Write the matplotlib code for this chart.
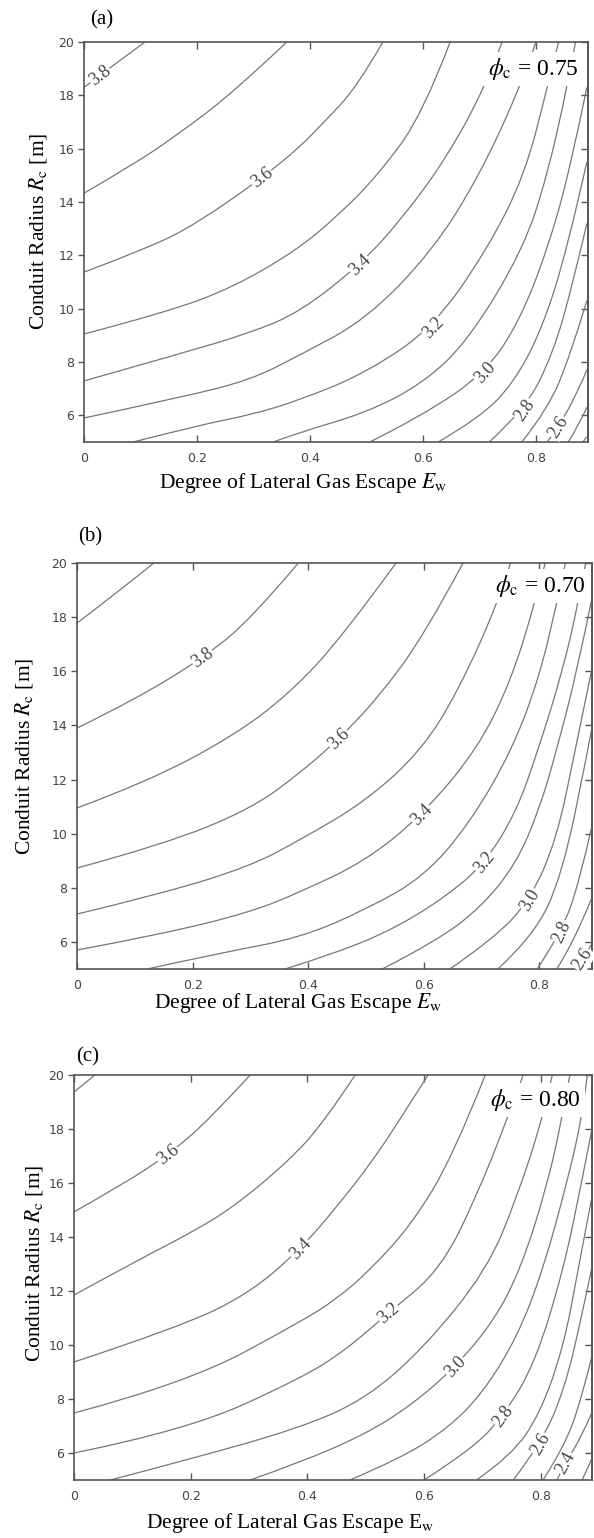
import numpy as np
import matplotlib.pyplot as plt
from matplotlib.path import Path
from matplotlib.patches import PathPatch

plt.rcParams['mathtext.fontset'] = 'stix'

W, H = 594, 1538

# ---- panel (a), phi_c = 0.75 : contour lines (E_w, R_c)
levels_a = [3.8, 3.7, 3.6, 3.5, 3.4, 3.3, 3.2, 3.1, 3.0, 2.9, 2.8, 2.7, 2.6, 2.5, 2.4]
E_a = [
    [0, 0.05, 0.108],
    [0, 0.087, 0.164, 0.264, 0.359],
    [0, 0.117, 0.2, 0.315, 0.382, 0.423, 0.483, 0.529],
    [0, 0.147, 0.264, 0.377, 0.45, 0.52, 0.6, 0.648],
    [0, 0.175, 0.294, 0.382, 0.488, 0.56, 0.64, 0.71, 0.74],
    [0, 0.175, 0.294, 0.382, 0.5, 0.618, 0.70, 0.772, 0.80],
    [0.087, 0.205, 0.294, 0.382, 0.5, 0.618, 0.713, 0.78, 0.82, 0.84],
    [0.335, 0.382, 0.5, 0.6, 0.68, 0.777, 0.82, 0.855, 0.87],
    [0.506, 0.6, 0.71, 0.77, 0.82, 0.86, 0.89],
    [0.627, 0.7, 0.76, 0.81, 0.855, 0.89],
    [0.717, 0.78, 0.83, 0.866, 0.89],
    [0.775, 0.82, 0.86, 0.89],
    [0.82, 0.839, 0.87, 0.89],
    [0.857, 0.875, 0.89],
    [0.883, 0.89],
]
R_a = [
    [18.3, 19.1, 20],
    [14.33, 15.4, 16.5, 18.1, 20],
    [11.37, 12.3, 13.2, 14.9, 16.06, 16.96, 18.3, 20],
    [9.05, 9.87, 10.8, 12.2, 13.5, 15.0, 17.3, 20],
    [7.29, 8.34, 9.09, 9.87, 11.64, 13.3, 15.6, 18.3, 20],
    [5.9, 6.69, 7.32, 8.26, 9.6, 12.2, 15.0, 18.3, 20],
    [5, 5.64, 6.01, 6.57, 7.6, 9.3, 12.2, 15.0, 18.3, 20],
    [5, 5.37, 6.1, 7.2, 8.8, 12.2, 15.0, 18.3, 20],
    [5, 6.0, 7.59, 9.5, 12.2, 15.2, 18.3],
    [5, 5.9, 7.2, 9.2, 12.2, 15.5],
    [5, 6.2, 8.3, 11.0, 13.2],
    [5, 6.2, 8.2, 10.3],
    [5, 5.56, 6.7, 7.7],
    [5, 5.6, 6.3],
    [5, 5.2],
]

# ---- panel (b), phi_c = 0.70
levels_b = [3.9, 3.8, 3.7, 3.6, 3.5, 3.4, 3.3, 3.2, 3.1, 3.0, 2.9, 2.8, 2.7, 2.6]
E_b = [
    [0, 0.06, 0.133],
    [0, 0.1, 0.218, 0.3, 0.383],
    [0, 0.12, 0.27, 0.369, 0.46, 0.552],
    [0, 0.15, 0.30, 0.386, 0.453, 0.52, 0.60, 0.668],
    [0, 0.15, 0.30, 0.386, 0.5, 0.597, 0.66, 0.728, 0.75],
    [0, 0.15, 0.3, 0.386, 0.5, 0.597, 0.692, 0.75, 0.792, 0.81],
    [0.121, 0.25, 0.386, 0.5, 0.6, 0.68, 0.753, 0.80, 0.83, 0.845],
    [0.36, 0.45, 0.55, 0.64, 0.706, 0.76, 0.798, 0.84, 0.867, 0.88],
    [0.528, 0.62, 0.70, 0.76, 0.80, 0.83, 0.865, 0.89],
    [0.645, 0.72, 0.784, 0.83, 0.862, 0.89],
    [0.728, 0.79, 0.84, 0.884, 0.89],
    [0.796, 0.839, 0.87, 0.89],
    [0.83, 0.86, 0.89],
    [0.865, 0.89],
]
R_b = [
    [17.78, 18.75, 20],
    [13.9, 14.95, 16.49, 17.9, 20],
    [10.95, 11.9, 13.6, 15.2, 17.3, 20],
    [8.73, 9.6, 10.9, 12.24, 13.5, 15.0, 17.3, 20],
    [7.03, 7.8, 8.8, 9.77, 11.2, 13.1, 15.3, 18.5, 20],
    [5.7, 6.3, 7.1, 7.84, 9.0, 10.69, 13.1, 15.6, 18.5, 20],
    [5, 5.6, 6.15, 7.2, 8.4, 10.4, 13.1, 15.8, 18.5, 20],
    [5, 5.6, 6.5, 7.7, 8.92, 10.8, 13.1, 16.0, 18.5, 20],
    [5, 6.0, 7.3, 8.9, 10.9, 13.1, 16.0, 18.6],
    [5, 6.1, 7.55, 9.8, 13.1, 16.0],
    [5, 6.2, 8.5, 13.1, 13.8],
    [5, 6.37, 8.3, 10.2],
    [5, 6.0, 7.6],
    [5, 5.9],
]

# ---- panel (c), phi_c = 0.80
levels_c = [3.7, 3.6, 3.5, 3.4, 3.3, 3.2, 3.1, 3.0, 2.9, 2.8, 2.7, 2.6, 2.5, 2.4, 2.3]
E_c = [
    [0, 0.036],
    [0, 0.08, 0.161, 0.23, 0.302],
    [0, 0.11, 0.2, 0.273, 0.37, 0.43, 0.482],
    [0, 0.182, 0.3, 0.388, 0.45, 0.513, 0.56, 0.607],
    [0, 0.194, 0.388, 0.45, 0.508, 0.58, 0.65, 0.705],
    [0, 0.194, 0.388, 0.465, 0.539, 0.628, 0.69, 0.744, 0.77],
    [0.062, 0.194, 0.388, 0.5, 0.6, 0.708, 0.76, 0.804, 0.82],
    [0.302, 0.388, 0.5, 0.58, 0.654, 0.72, 0.765, 0.81, 0.837, 0.85],
    [0.473, 0.56, 0.64, 0.70, 0.76, 0.804, 0.845, 0.871, 0.88],
    [0.6, 0.68, 0.736, 0.79, 0.839, 0.87, 0.888],
    [0.69, 0.75, 0.80, 0.84, 0.864, 0.888],
    [0.753, 0.8, 0.84, 0.87, 0.888],
    [0.804, 0.84, 0.87, 0.888],
    [0.828, 0.842, 0.87, 0.888],
    [0.871, 0.888],
]
R_c = [
    [19.37, 20],
    [14.93, 15.9, 17.04, 18.3, 20],
    [11.85, 13.15, 14.15, 15.1, 16.85, 18.3, 20],
    [9.37, 10.67, 11.9, 13.55, 15.1, 16.85, 18.4, 20],
    [7.48, 8.6, 10.85, 11.7, 12.78, 14.5, 17.0, 20],
    [6.0, 6.85, 8.75, 9.8, 11.19, 12.78, 15.5, 18.44, 20],
    [5, 5.74, 6.93, 8.0, 9.9, 12.78, 15.5, 18.44, 20],
    [5, 5.65, 6.7, 7.8, 9.19, 10.9, 12.78, 15.8, 18.44, 20],
    [5, 5.8, 6.9, 8.2, 10.3, 12.78, 16.0, 18.44, 20],
    [5, 6.1, 7.37, 9.3, 12.78, 16.0, 18.0],
    [5, 5.9, 7.5, 10.0, 12.78, 15.5],
    [5, 6.33, 8.3, 11.0, 12.9],
    [5, 6.2, 8.0, 9.6],
    [5, 5.63, 6.6, 7.5],
    [5, 5.8],
]

xticks = [0, 0.2, 0.4, 0.6, 0.8]
xticklabels = ['0', '0.2', '0.4', '0.6', '0.8']
yticks = [6, 8, 10, 12, 14, 16, 18, 20]


def fx(x):
    return x / W


def fy(y):
    return 1 - y / H


def smooth(e, r):
    # quadratic bezier through the midpoints, so the read points act as control points
    p = np.column_stack([e, r]).astype(float)
    if len(p) < 3:
        return Path(p)
    verts, codes = [p[0]], [Path.MOVETO]
    for i in range(1, len(p) - 1):
        end = (p[i] + p[i + 1]) / 2 if i < len(p) - 2 else p[i + 1]
        verts += [p[i], end]
        codes += [Path.CURVE3, Path.CURVE3]
    return Path(verts, codes)


fig = plt.figure(figsize=(W / 100, H / 100), dpi=100)


def panel(box, xmax, levels, E, R, lab, tag, tagxy, phi, phixy, xlab, xlabxy, ylabxy):
    l, t, r, b = box
    ax = fig.add_axes([fx(l), fy(b), (r - l) / W, (b - t) / H])
    ax.set_xlim(0, xmax)
    ax.set_ylim(5, 20)
    for lev, e, rr in zip(levels, E, R):
        ax.add_patch(PathPatch(smooth(e, rr), fill=False, ec='#777777', lw=0.9, zorder=2))
    # inline labels, angle taken from the line in screen space
    for lev, e0 in lab:
        i = levels.index(lev)
        e, rr = np.array(E[i]), np.array(R[i])
        r0 = np.interp(e0, e, rr)
        p1 = ax.transData.transform((e0 - 0.012, np.interp(e0 - 0.012, e, rr)))
        p2 = ax.transData.transform((e0 + 0.012, np.interp(e0 + 0.012, e, rr)))
        ang = np.degrees(np.arctan2(p2[1] - p1[1], p2[0] - p1[0]))
        ax.text(e0, r0, f'{lev:.1f}', rotation=ang, rotation_mode='anchor',
                ha='center', va='center', fontsize=13, family='Liberation Serif',
                color='#444444', zorder=3,
                bbox=dict(fc='white', ec='none', pad=0.5))
    ax.set_xticks(xticks)
    ax.set_xticklabels(xticklabels)
    ax.set_yticks(yticks)
    ax.tick_params(axis='x', direction='in', top=True, bottom=True, length=5,
                   width=1, pad=7, labelsize=9, labelcolor='#444444', color='#555555')
    ax.tick_params(axis='y', direction='out', left=True, right=False, length=4,
                   width=1, pad=3, labelsize=9, labelcolor='#444444', color='#555555')
    sec = ax.secondary_yaxis('right')
    sec.set_yticks(yticks)
    sec.tick_params(direction='in', length=5, width=1, labelright=False, color='#555555')
    for sp in list(ax.spines.values()) + list(sec.spines.values()):
        sp.set_color('#555555')
        sp.set_linewidth(1.2)
    fig.text(fx(tagxy[0]), fy(tagxy[1]), tag, ha='center', va='center',
             fontsize=15, family='Liberation Serif')
    ax.text(fx(phixy[0]), fy(phixy[1]), phi, transform=fig.transFigure,
            ha='center', va='center', fontsize=17, family='Liberation Serif', zorder=5,
            bbox=dict(fc='white', ec='none', pad=3))
    fig.text(fx(xlabxy[0]), fy(xlabxy[1]), xlab, ha='center', va='center',
             fontsize=15.5, family='Liberation Serif')
    fig.text(fx(ylabxy[0]), fy(ylabxy[1]), r'Conduit Radius $R_\mathrm{c}$ [m]',
             ha='center', va='center', rotation=90, fontsize=15.5,
             family='Liberation Serif')
    return ax


panel((84, 42, 588, 442), 0.892, levels_a, E_a, R_a,
      [(3.8, 0.028), (3.6, 0.315), (3.4, 0.488), (3.2, 0.618), (3.0, 0.71),
       (2.8, 0.78), (2.6, 0.839)],
      '(a)', (102, 20), r'$\phi_\mathrm{c}$ = 0.75', (533, 69),
      r'Degree of Lateral Gas Escape $E_\mathrm{w}$', (303, 483), (38, 231))

panel((77, 563, 592, 969), 0.891, levels_b, E_b, R_b,
      [(3.8, 0.218), (3.6, 0.453), (3.4, 0.597), (3.2, 0.706), (3.0, 0.784),
       (2.8, 0.839), (2.6, 0.875)],
      '(b)', (90, 537), r'$\phi_\mathrm{c}$ = 0.70', (540, 586),
      r'Degree of Lateral Gas Escape $E_\mathrm{w}$', (298, 1003), (24, 756))

panel((74, 1075, 592, 1480), 0.888, levels_c, E_c, R_c,
      [(3.6, 0.161), (3.4, 0.388), (3.2, 0.539), (3.0, 0.654), (2.8, 0.736),
       (2.6, 0.8), (2.4, 0.842)],
      '(c)', (88, 1057), r'$\phi_\mathrm{c}$ = 0.80', (535, 1100),
      r'Degree of Lateral Gas Escape E$_\mathrm{w}$', (290, 1523), (34, 1263))

fig.savefig('out.png', dpi=100)
